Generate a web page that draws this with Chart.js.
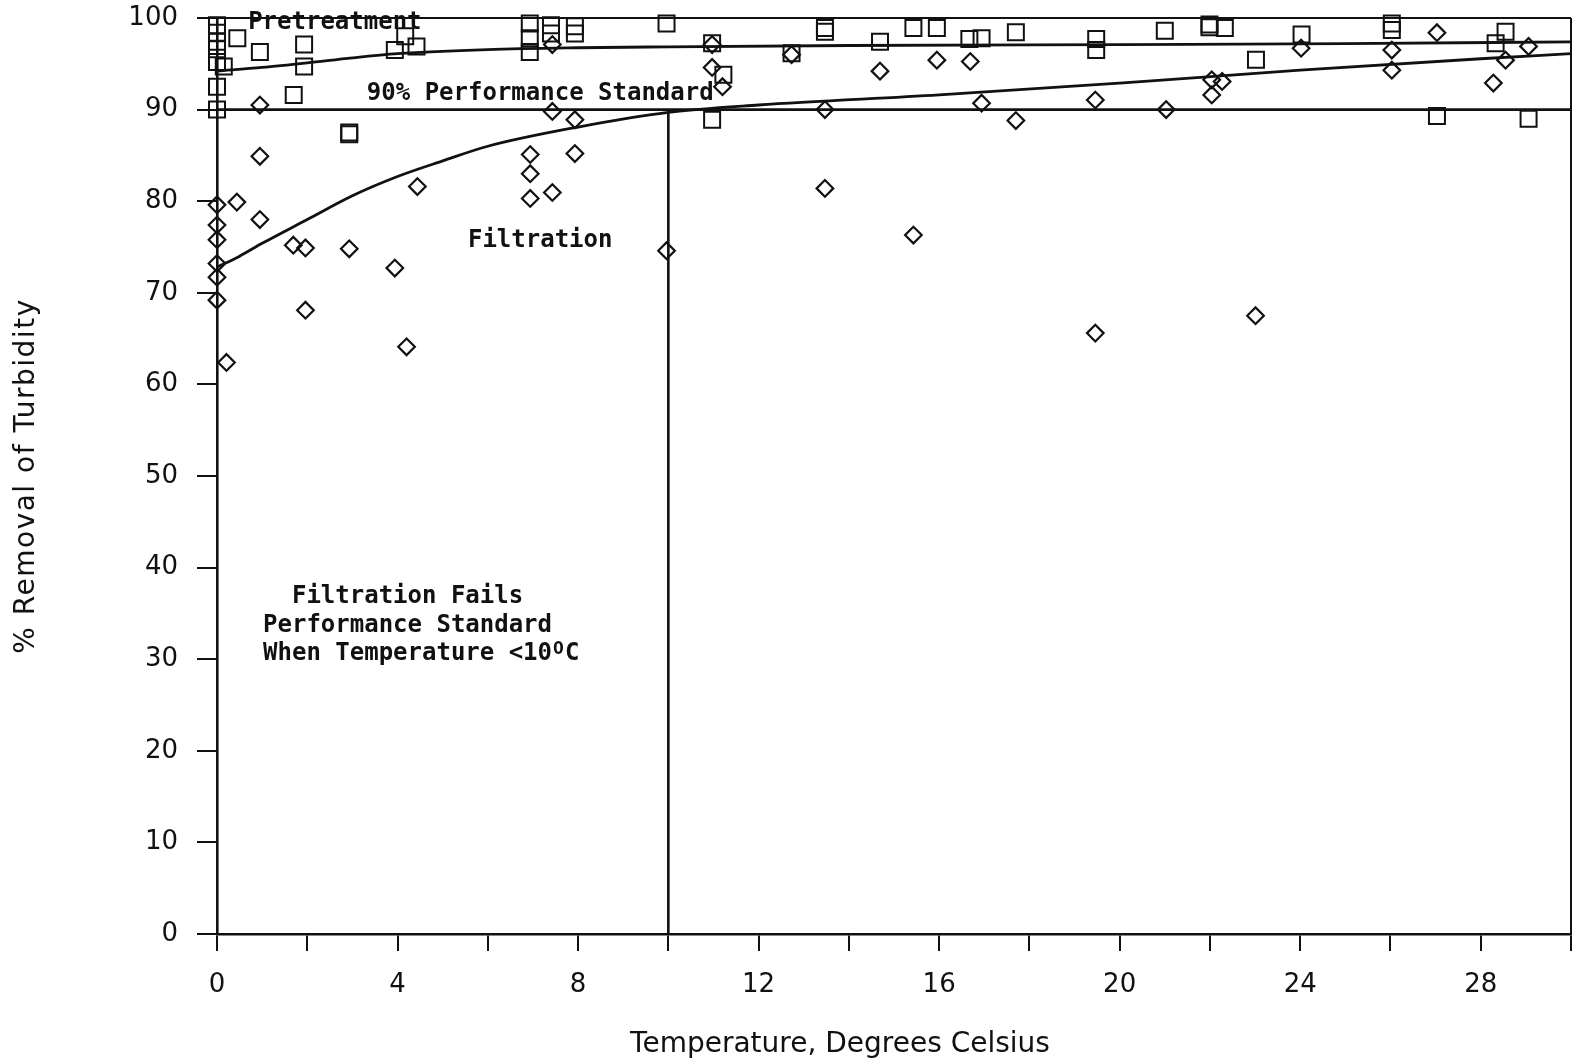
<!DOCTYPE html>
<html>
<head>
<meta charset="utf-8">
<script src="https://cdn.jsdelivr.net/npm/chart.js@4.4.1/dist/chart.umd.min.js"></script>
<style>
html, body { margin: 0; padding: 0; background: #fff; }
#chartContainer { width: 1589px; height: 1064px; }
</style>
</head>
<body>
<div id="chartContainer"><canvas id="turbidityChart" width="1589" height="1064"></canvas></div>
<script>
// Pretreatment (squares)
var pretreatTemp = [0, 0, 0, 0, 0, 0, 0, 0.15, 0.45, 0.95, 1.7, 1.93, 1.93, 2.93, 2.93,
    3.94, 4.17, 4.42, 6.93, 6.93, 6.93, 7.4, 7.4, 7.93, 7.93, 9.96, 10.97, 10.97, 11.22,
    12.73, 13.47, 13.47, 14.69, 15.43, 15.95, 16.67, 16.94, 17.7, 19.48, 19.48, 21.0,
    21.99, 21.99, 22.33, 23.02, 24.03, 26.03, 26.03, 27.03, 28.33, 28.55, 29.06];
var pretreatRemoval = [99.2, 98.4, 97.4, 96.6, 95.2, 92.5, 90.0, 94.7, 97.8, 96.3, 91.6, 97.1, 94.7, 87.5, 87.3,
    96.5, 98.0, 96.9, 99.4, 97.8, 96.3, 99.2, 98.3, 99.1, 98.3, 99.4, 97.25, 88.9, 93.8,
    96.15, 98.9, 98.5, 97.4, 98.9, 98.9, 97.7, 97.8, 98.45, 97.7, 96.5, 98.6,
    99.3, 99.0, 98.9, 95.45, 98.2, 99.4, 98.7, 89.3, 97.25, 98.5, 89.0];

// Filtration (diamonds)
var filterTemp = [0, 0, 0, 0, 0, 0, 0.21, 0.44, 0.95, 0.95, 0.95, 1.69, 1.96, 1.96, 2.93,
    3.94, 4.2, 4.44, 6.94, 6.94, 6.94, 7.43, 7.43, 7.43, 7.93, 7.93, 9.96, 10.97, 10.97,
    11.2, 12.73, 13.47, 13.47, 14.69, 15.43, 15.95, 16.69, 16.94, 17.7, 19.46, 19.46,
    21.03, 22.04, 22.04, 22.27, 23.01, 24.02, 26.03, 26.03, 27.03, 28.28, 28.55, 29.06];
var filterRemoval = [79.6, 77.4, 75.8, 73.2, 71.7, 69.2, 62.4, 79.9, 90.5, 84.9, 78.0, 75.2, 74.9, 68.1, 74.8,
    72.7, 64.1, 81.6, 85.1, 83.0, 80.3, 97.1, 89.8, 80.95, 88.9, 85.2, 74.6, 97.1, 94.6,
    92.5, 96.0, 90.0, 81.4, 94.2, 76.3, 95.4, 95.25, 90.7, 88.8, 91.05, 65.6,
    90.0, 93.25, 91.6, 93.07, 67.5, 96.7, 96.5, 94.3, 98.4, 92.9, 95.4, 96.9];

// Fitted curves
var pretreatCurveTemp = [0, 1, 2, 3, 4, 6, 8, 10, 14, 20, 25, 30];
var pretreatCurveRemoval = [94.2, 94.6, 95.1, 95.65, 96.1, 96.55, 96.75, 96.85, 97.0, 97.1, 97.2, 97.4];
var filterCurveTemp = [0, 0.5, 1, 2, 3, 4, 5, 6, 8, 10, 12, 16, 20, 24, 28, 30];
var filterCurveRemoval = [72.8, 74.0, 75.4, 78.0, 80.6, 82.7, 84.4, 86.0, 88.1, 89.7, 90.5, 91.6, 92.9, 94.3, 95.55, 96.1];

// Reference lines
var standardTemp = [0, 30];
var standardRemoval = [90, 90];
var limitTemp = [10, 10];
var limitRemoval = [0, 90];
var frameTopTemp = [0, 30];
var frameTopRemoval = [100, 100];
var frameRightTemp = [30, 30];
var frameRightRemoval = [0, 100];

var xLabelStep = 4;

function pares(xs, ys) {
    return xs.map(function(v, i) { return { x: v, y: ys[i] }; });
}

var notas = [
    { text: 'Pretreatment', x: 0.69, y: 98.8 },
    { text: '90% Performance Standard', x: 3.32, y: 91.07 },
    { text: 'Filtration', x: 5.56, y: 75.05 },
    { text: '  Filtration Fails', x: 1.02, y: 36.14 },
    { text: 'Performance Standard', x: 1.02, y: 32.98 },
    { text: 'When Temperature <10', x: 1.02, y: 29.92, sup: 'O', after: 'C' }
];

var notasPlugin = {
    id: 'notas',
    afterDraw: function(chart) {
        var ctx = chart.ctx;
        var xs = chart.scales.x, ys = chart.scales.y;
        ctx.save();
        ctx.fillStyle = '#111';
        ctx.textBaseline = 'alphabetic';
        ctx.textAlign = 'left';
        var fuente = 'bold 24px "DejaVu Sans Mono"';
        for (var i = 0; i < notas.length; i++) {
            var n = notas[i];
            var px = xs.getPixelForValue(n.x);
            var py = ys.getPixelForValue(n.y);
            ctx.font = fuente;
            ctx.fillText(n.text, px, py);
            if (n.sup) {
                var w = ctx.measureText(n.text).width;
                ctx.font = 'bold 18px "DejaVu Sans Mono"';
                ctx.fillText(n.sup, px + w + 1, py - 6);
                ctx.font = fuente;
                ctx.fillText(n.after, px + w + 13, py);
            }
        }
        // axis titles
        ctx.font = '28px "DejaVu Sans"';
        ctx.textAlign = 'center';
        ctx.textBaseline = 'middle';
        ctx.fillText('Temperature, Degrees Celsius', 840, 1045);
        ctx.save();
        ctx.translate(27, (chart.chartArea.top + chart.chartArea.bottom) / 2);
        ctx.rotate(-Math.PI / 2);
        ctx.letterSpacing = '1.5px';
        ctx.fillText('% Removal of Turbidity', 0, 0);
        ctx.restore();
        ctx.restore();
    }
};

document.addEventListener('DOMContentLoaded', function() {
    var ctx = document.getElementById('turbidityChart').getContext('2d');
    var lineaBase = {
        type: 'line', showLine: true, pointRadius: 0, fill: false,
        borderColor: '#111', clip: false
    };
    var datasets = [
        Object.assign({}, lineaBase, { label: 'top', data: pares(frameTopTemp, frameTopRemoval), borderWidth: 2 }),
        Object.assign({}, lineaBase, { label: 'right', data: pares(frameRightTemp, frameRightRemoval), borderWidth: 2 }),
        Object.assign({}, lineaBase, { label: '90%', data: pares(standardTemp, standardRemoval), borderWidth: 2.6 }),
        Object.assign({}, lineaBase, { label: '10C', data: pares(limitTemp, limitRemoval), borderWidth: 2.6 }),
        Object.assign({}, lineaBase, { label: 'Pretreatment fit', data: pares(pretreatCurveTemp, pretreatCurveRemoval),
            borderWidth: 2.8, cubicInterpolationMode: 'monotone' }),
        Object.assign({}, lineaBase, { label: 'Filtration fit', data: pares(filterCurveTemp, filterCurveRemoval),
            borderWidth: 2.8, cubicInterpolationMode: 'monotone' }),
        {
            type: 'scatter', label: 'Pretreatment', data: pares(pretreatTemp, pretreatRemoval),
            pointStyle: 'rect', pointRadius: 11.3, borderWidth: 2, borderColor: '#111',
            backgroundColor: 'rgba(0,0,0,0)', clip: false
        },
        {
            type: 'scatter', label: 'Filtration', data: pares(filterTemp, filterRemoval),
            pointStyle: 'rectRot', pointRadius: 8.3, borderWidth: 2.2, borderColor: '#111',
            backgroundColor: 'rgba(0,0,0,0)', clip: false
        }
    ];

    new Chart(ctx, {
        type: 'scatter',
        data: { datasets: datasets },
        options: {
            responsive: false,
            animation: false,
            events: [],
            layout: { padding: { top: 18, right: 18, left: 0, bottom: 0 } },
            plugins: { legend: { display: false }, tooltip: { enabled: false } },
            scales: {
                x: {
                    type: 'linear', min: 0, max: 30,
                    afterFit: function(scale) {
                        scale.height = 130;
                        scale.paddingLeft = 0;
                        scale.paddingRight = 0;
                    },
                    border: { display: true, color: '#111', width: 2.6 },
                    grid: { drawOnChartArea: false, drawTicks: true, tickLength: 17, color: '#111', lineWidth: 2 },
                    ticks: {
                        stepSize: 2, autoSkip: false, maxRotation: 0, padding: 19, color: '#111',
                        font: { family: '"DejaVu Sans"', size: 26 },
                        callback: function(v) { return v % xLabelStep === 0 ? v : ''; }
                    }
                },
                y: {
                    type: 'linear', min: 0, max: 100,
                    afterFit: function(scale) {
                        scale.width = 217;
                        scale.paddingTop = 0;
                        scale.paddingBottom = 0;
                    },
                    border: { display: true, color: '#111', width: 2.6 },
                    grid: { drawOnChartArea: false, drawTicks: true, tickLength: 20, color: '#111', lineWidth: 2 },
                    ticks: {
                        stepSize: 10, padding: 19, color: '#111',
                        font: { family: '"DejaVu Sans"', size: 26 }
                    }
                }
            }
        },
        plugins: [notasPlugin]
    });
});
</script>
</body>
</html>
